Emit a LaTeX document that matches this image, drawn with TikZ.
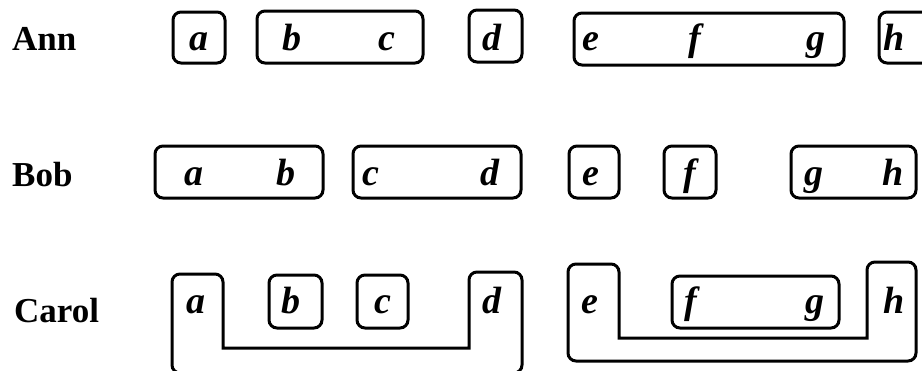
\documentclass[tikz,border=0pt]{standalone}
\usepackage{fontspec}
\setmainfont{Liberation Serif}
\begin{document}
\begin{tikzpicture}[x=1pt,y=-1pt,
  grp/.style={line width=3pt,rounded corners=8pt},
  who/.style={anchor=base west,inner sep=0pt,font=\fontsize{35}{40}\selectfont\bfseries},
  elem/.style={anchor=base,inner sep=0pt,font=\fontsize{38}{44}\selectfont\bfseries\itshape}]
\useasboundingbox (0,0) rectangle (922,370);
\clip (0,0) rectangle (922,370);
% labels
\node[who] (ann) at (12,50) {Ann};
\node[who] (bob) at (12,186) {Bob};
\node[who] (carol) at (14,322) {Carol};
% Ann row
\foreach \n/\x in {a/199,b/292,c/387,d/492,e/591,f/695,g/816,h/894}
  \node[elem] (ann-\n) at (\x,50) {\n};
\draw[grp] (173,12) rectangle (225,63);
\draw[grp] (257,11) rectangle (423,63);
\draw[grp] (469,10) rectangle (522,62);
\draw[grp] (574,13) rectangle (844,65);
\draw[grp] (879,12) rectangle (935,63);
% Bob row
\foreach \n/\x in {a/194,b/286,c/371,d/490,e/591,f/690,g/814,h/893}
  \node[elem] (bob-\n) at (\x,185) {\n};
\draw[grp] (155,146) rectangle (323,198);
\draw[grp] (353,146) rectangle (521,198);
\draw[grp] (569,146) rectangle (619,198);
\draw[grp] (664,146) rectangle (716,198);
\draw[grp] (791,146) rectangle (916,198);
% Carol row
\foreach \n/\x in {a/196,b/291,c/383,d/492,e/590,f/691,g/815,h/894}
  \node[elem] (carol-\n) at (\x,313) {\n};
\draw[grp] (172,310) -- (172,274) -- (223,274) -- (223,330)
  [sharp corners] -- (223,348) -- (469,348) [rounded corners=8pt] -- (469,272)
  -- (522,272) -- (522,373) -- (172,373) -- cycle;
\draw[grp] (269,275) rectangle (322,328);
\draw[grp] (357,275) rectangle (408,328);
\draw[grp] (568,300) -- (568,264) -- (619,264) -- (619,320)
  [sharp corners] -- (619,338) -- (867,338) [rounded corners=8pt] -- (867,262)
  -- (916,262) -- (916,361) -- (568,361) -- cycle;
\draw[grp] (672,276) rectangle (839,328);
\end{tikzpicture}
\end{document}
